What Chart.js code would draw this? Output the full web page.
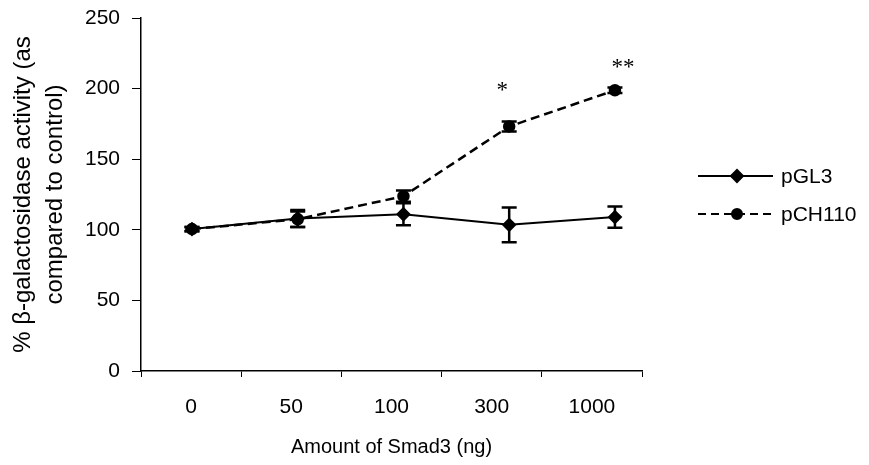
<!DOCTYPE html>
<html>
<head>
<meta charset="utf-8">
<script src="https://cdn.jsdelivr.net/npm/chart.js@4/dist/chart.umd.min.js"></script>
<style>
  html, body { margin: 0; padding: 0; background: #fff; }
  #wrap { width: 869px; height: 465px; }
</style>
</head>
<body>
<div id="wrap"><canvas id="chart" width="869" height="465"></canvas></div>
<script>
// valores
const doses = ["0", "50", "100", "300", "1000"];
const pGL3 = [100.5, 108, 111, 103.5, 109];
const pGL3Err = [1.5, 6, 7.8, 12.3, 7.5];
const pCH110 = [100.5, 107.5, 123.8, 173.2, 198.8];
const pCH110Err = [1.5, 5.5, 4, 3.5, 2];
const stars = ["", "", "", "*", "**"];
const starY = [null, null, null, 201.7, 218.5];
const yTicks = [0, 50, 100, 150, 200, 250];

const FONT = "'Liberation Sans', Arial, sans-serif";

// barras de error + asteriscos + leyenda
const extras = {
  id: "extras",
  afterDatasetsDraw(chart) {
    const ctx = chart.ctx;
    const y = chart.scales.y;
    const errs = [pGL3Err, pCH110Err];
    ctx.save();
    ctx.strokeStyle = "#000";
    ctx.fillStyle = "#000";
    ctx.lineWidth = 2.5;
    chart.data.datasets.forEach((ds, di) => {
      const pts = chart.getDatasetMeta(di).data;
      ds.data.forEach((d, i) => {
        const e = errs[di][i];
        const px = pts[i].x;
        const top = y.getPixelForValue(d.y + e), bot = y.getPixelForValue(d.y - e);
        ctx.beginPath();
        ctx.moveTo(px, top); ctx.lineTo(px, bot);
        ctx.moveTo(px - 7.5, top); ctx.lineTo(px + 7.5, top);
        ctx.moveTo(px - 7.5, bot); ctx.lineTo(px + 7.5, bot);
        ctx.stroke();
      });
    });
    // asteriscos
    const pts2 = chart.getDatasetMeta(1).data;
    ctx.font = "23px 'Liberation Serif', 'Times New Roman', serif";
    ctx.textAlign = "center";
    ctx.textBaseline = "middle";
    stars.forEach((s, i) => {
      if (!s) return;
      const dx = s.length > 1 ? 8 : -7;
      ctx.fillText(s, pts2[i].x + dx, y.getPixelForValue(starY[i]) + 5);
    });
    // leyenda
    const lx = chart.chartArea.right + 56;
    const rows = [
      { label: "pGL3", dash: [], style: "rectRot", r: 6, yy: 176 },
      { label: "pCH110", dash: [8, 5], style: "circle", r: 5, yy: 214 }
    ];
    rows.forEach(row => {
      ctx.setLineDash(row.dash);
      ctx.lineWidth = 2;
      ctx.beginPath();
      ctx.moveTo(lx, row.yy); ctx.lineTo(lx + 75, row.yy);
      ctx.stroke();
      ctx.setLineDash([]);
      Chart.helpers.drawPoint(ctx, { pointStyle: row.style, radius: row.r, borderWidth: 1 }, lx + 39, row.yy);
      ctx.fill();
      ctx.font = "21px " + FONT;
      ctx.textAlign = "left";
      ctx.fillText(row.label, lx + 83, row.yy + 1);
    });
    ctx.restore();
  }
};

new Chart(document.getElementById("chart").getContext("2d"), {
  type: "line",
  data: {
    labels: doses,
    datasets: [
      {
        label: "pGL3",
        xAxisID: "xd",
        data: pGL3.map((v, i) => ({ x: i, y: v })),
        borderColor: "#000",
        backgroundColor: "#000",
        borderWidth: 2,
        pointStyle: "rectRot",
        pointRadius: 6,
        pointBackgroundColor: "#000",
        tension: 0
      },
      {
        label: "pCH110",
        xAxisID: "xd",
        data: pCH110.map((v, i) => ({ x: i, y: v })),
        borderColor: "#000",
        backgroundColor: "#000",
        borderWidth: 2.5,
        borderDash: [9, 5],
        pointStyle: "circle",
        pointRadius: 5,
        pointBackgroundColor: "#000",
        tension: 0
      }
    ]
  },
  options: {
    responsive: false,
    animation: false,
    layout: { padding: { top: 18, right: 227, left: 0, bottom: 0 } },
    plugins: { legend: { display: false }, tooltip: { enabled: false } },
    scales: {
      // eje oculto para los puntos (en el original estan algo desplazados)
      xd: { type: "linear", display: false, min: -0.482, max: 4.256 },
      x: {
        type: "category",
        offset: true,
        afterFit: s => { s.height = 94; },
        grid: { display: true, drawOnChartArea: false, offset: true, tickLength: 6, color: "#000" },
        border: { color: "#000", width: 1.5 },
        ticks: { color: "#000", font: { family: FONT, size: 21 }, padding: 18 },
        title: { display: true, text: "Amount of Smad3 (ng)", color: "#000", font: { family: FONT, size: 20 }, padding: { top: 4, bottom: 6 } }
      },
      y: {
        min: 0,
        max: 250,
        afterFit: s => { s.width = 141; s.paddingTop = 0; s.paddingBottom = 0; },
        afterBuildTicks: s => { s.ticks = yTicks.map(v => ({ value: v })); },
        grid: { display: true, drawOnChartArea: false, tickLength: 9, color: "#000" },
        border: { color: "#000", width: 1.5 },
        ticks: { color: "#000", font: { family: FONT, size: 21 }, padding: 12 },
        title: {
          display: true,
          text: ["% β-galactosidase activity (as", "compared to control)"],
          color: "#000",
          font: { family: FONT, size: 24, lineHeight: 1.33 },
          padding: { top: 7, bottom: 0 }
        }
      }
    }
  },
  plugins: [extras]
});
</script>
</body>
</html>
